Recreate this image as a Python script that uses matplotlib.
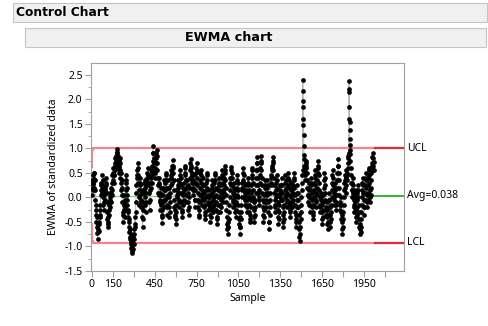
import numpy as np
import matplotlib
matplotlib.use("Agg")
from matplotlib import pyplot as plt
from matplotlib.patches import Rectangle

plt.rcParams['font.family'] = ['Noto Sans', 'DejaVu Sans']

avg = 0.038
half_width = 0.965
# limits widen over the first samples, then stay flat
startup_width = [0.58, 0.74, 0.83, 0.88, 0.91, 0.93, 0.945, 0.955, 0.96]
n_samples = 2025

# EWMA values, in hundredths, every 2nd sample
ewma_0 = [5, 20, 35, 28, 15, 30, 45, 50, 38, 20,
          50, 35, 15, -5, -25, -15, -35, -50, -40, -60,
          -72, -84, -70, -55, -65, -50, -68, -55, -40, -25,
          -35, -15, 5, 25, 15, 30, 10, 25, 45, 35,
          20, 0, -15, -25, -10, 5, 20, 10, -5, 15,
          30, 40, 25, 10, -10, -30, -45, -55, -60, -50,
          -40, -25, -35, -15, 0, 10, -5, -20, -10, 10,
          20, 5, 15, 30, 45, 35, 50, 60, 45, 30,
          45, 60, 70, 55, 65, 80, 70, 85, 75, 90,
          80, 92, 99, 85, 70, 60, 75, 65, 50, 60]
ewma_200 = [80, 70, 55, 40, 50, 30, 15, 35, 20, 5,
            -10, -30, -50, -35, -15, 5, -10, -25, -40, -20,
            -5, 15, 30, 45, 35, 20, 5, -15, -5, -25,
            -40, -30, -50, -60, -45, -70, -80, -65, -85, -75,
            -95, -104, -90, -110, -114, -100, -85, -105, -95, -80,
            -65, -85, -95, -75, -55, -40, -60, -30, -10, 10,
            25, 40, 55, 45, 70, 60, 45, 30, 15, 0,
            -15, 5, 25, 40, 30, 15, -5, -20, -10, 10,
            -20, -40, -60, -45, -25, -10, 10, 30, 15, 35,
            20, 0, -15, -30, -10, 10, 25, 40, 30, 50]
ewma_400 = [40, 25, 60, 45, 30, 10, -10, -25, -5, 15,
            30, 20, 40, 55, 45, 30, 50, 65, 75, 90,
            104, 90, 80, 70, 75, 60, 50, 40, 55, 70,
            80, 90, 96, 85, 70, 55, 40, 25, 10, 30,
            40, 25, 5, -10, -25, -5, 10, 20, 5, -15,
            -35, -52, -40, -25, -10, 5, 20, 35, 15, -5,
            -20, -5, 15, 30, 45, 50, 35, 20, 0, -20,
            -35, -15, 5, 20, 35, 20, 0, -20, -40, -30,
            -10, 10, 25, 40, 55, 45, 30, 50, 65, 60,
            77, 65, 50, 35, 15, -5, -20, -35, -25, -40]
ewma_600 = [-54, -45, -30, -15, 0, 15, 5, 20, 35, 25,
            10, -5, -20, -10, 10, 30, 45, 55, 40, 25,
            10, -10, -25, -40, -30, -15, 5, 20, 10, -5,
            15, 30, 45, 60, 65, 50, 35, 20, 5, -10,
            5, 20, 35, 25, 10, -10, -25, -35, -20, 0,
            20, 40, 55, 70, 60, 79, 65, 50, 35, 45,
            30, 15, 5, 20, 35, 45, 30, 15, -5, -20,
            -5, 15, 30, 50, 60, 70, 55, 40, 25, 10,
            -5, -20, -35, -40, -25, -10, 5, 20, 35, 50,
            55, 45, 30, 15, 0, -15, -5, 10, 25, 40]
ewma_800 = [25, 10, -5, -20, -35, -45, -30, -15, 0, 15,
            30, 45, 50, 35, 20, 5, -10, -25, -15, 0,
            15, 0, -20, -35, -50, -40, -25, -10, 5, 20,
            35, 25, 10, -5, -20, -30, -15, 0, 15, 30,
            45, 50, 35, 20, 5, -10, -25, -40, -55, -45,
            -30, -15, 0, 15, 25, 40, 30, 15, 0, -15,
            -30, -20, -5, 10, 25, 40, 55, 45, 30, 15,
            0, -10, 10, 25, 40, 55, 65, 50, 35, 20,
            5, -10, -25, -40, -55, -65, -50, -60, -74, -60,
            -45, -30, -15, 0, 15, 30, 40, 25, 40, 55]
ewma_1000 = [63, 50, 40, 25, 10, -5, -20, -10, 5, 20,
             30, 15, 0, -15, -30, -40, -25, -10, 5, 20,
             35, 45, 30, 15, 0, -15, -30, -45, -55, -40,
             -60, -74, -60, -45, -30, -15, 0, 15, 30, 20,
             35, 50, 60, 45, 30, 15, 0, -15, -5, 10,
             25, 15, 0, -15, -30, -20, -5, 10, 25, 40,
             30, 15, 0, -15, -30, -45, -50, -35, -20, -5,
             10, 25, 40, 55, 60, 45, 30, 15, 0, -10,
             -25, -40, -50, -35, -20, -5, 10, 25, 40, 55,
             70, 82, 70, 55, 40, 25, 10, -5, -15, 0]
ewma_1200 = [15, 30, 45, 60, 75, 85, 70, 55, 40, 25,
             10, -5, -20, -35, -50, -40, -25, -10, 5, 20,
             35, 25, 10, -5, -20, -10, 5, 20, 35, 25,
             10, -10, -30, -50, -64, -50, -35, -20, -5, 10,
             25, 40, 30, 45, 55, 65, 60, 75, 82, 70,
             55, 40, 25, 10, -5, -20, -30, -15, 0, 15,
             30, 45, 35, 20, 5, -10, -25, -40, -55, -45,
             -30, -15, 0, 15, 25, 10, -5, 10, 25, 40,
             25, 10, -5, -20, -35, -50, -60, -45, -30, -15,
             0, 15, 30, 45, 35, 20, 5, -10, -20, -5]
ewma_1400 = [10, 25, 40, 50, 35, 20, 5, -10, -25, -40,
             -30, -15, 0, 15, 30, 20, 5, -10, -20, -5,
             10, 25, 40, 50, 35, 20, 5, -15, -30, -45,
             -60, -50, -35, -20, -5, 10, 25, 10, -5, -20,
             -35, -50, -65, -80, -88, -75, -60, -45, -30, -15,
             0, 15, 30, 45, 55]
spike_1510 = [239, 216, 196, 184, 160, 147, 128, 105, 86, 79, 65]
ewma_1522 = [55, 45, 35, 50, 60, 70, 75, 65, 50, 35,
             20, 5, -10, 5, 20, 30, 15, 0, -15, -30,
             -15, 0, 15, 30, 40, 25, 10, -5, -20, -35,
             -43, -30, -15, 0, 15, 30, 45, 55, 40, 25,
             10, -5, -20, -10, 5, 20, 35, 50, 65, 75,
             60, 45, 30, 15, 0, -15, -30, -20, -5, 10,
             0, -15, -30, -45, -54, -40, -25, -10, 5, 20,
             35, 50, 40, 25, 10, -5, -20, -35, -25, -10,
             -25, -40, -55, -64, -50, -35, -20, -5, 10, -5,
             -20, -35, -50, -60, -45, -30, -15, 0, 15, 30]
ewma_1722 = [45, 55, 40, 25, 10, -5, -15, 0, 15, 30,
             20, 5, -10, -25, -15, 5, 20, 35, 50, 65,
             79, 65, 50, 35, 20, 5, -10, -25, -15, 0,
             -15, -30, -45, -35, -50, -65, -74, -60, -45, -30,
             -15, 0, 15, 30, 45, 35, 20, 10, 25, 40,
             55, 45, 35, 50, 60, 70, 80, 85, 90]
spike_1840 = [237, 222, 215, 184, 160, 154, 137, 120, 106, 96, 89, 75]
ewma_1853 = [60, 45, 30, 15, 0, 15, 30, 40, 25, 10,
             -5, -20, -30, -15, 0, 15, 5, -10, -25, -40,
             -50, -35, -20, -5, 10, 25, 15, 0, -15, -30,
             -45, -60, -74, -65, -55, -71, -60, -45, -30, -15,
             0, 15, 30, 40, 25, 10, -5, -20, -35, -20,
             -5, 10, 25, 40, 50, 35, 20, 5, -10, -20,
             -5, 10, 25, 40, 55, 60, 45, 30, 15, 0,
             -10, 5, 20, 35, 50, 65, 82, 70, 55, 65,
             80, 90, 72, 55]

# (first sample, step between samples, values)
blocks = [(0, 2, ewma_0), (200, 2, ewma_200), (400, 2, ewma_400),
          (600, 2, ewma_600), (800, 2, ewma_800), (1000, 2, ewma_1000),
          (1200, 2, ewma_1200), (1400, 2, ewma_1400), (1510, 1, spike_1510),
          (1522, 2, ewma_1522), (1722, 2, ewma_1722), (1840, 1, spike_1840),
          (1853, 2, ewma_1853)]

x_ticks = np.arange(0, 2101, 150)
x_labeled = [0, 150, 450, 750, 1050, 1350, 1650, 1950]
y_ticks = np.arange(-1.5, 2.51, 0.5)

xs, ys = [], []
for start, step, vals in blocks:
    xs.append(start + step * np.arange(len(vals)))
    ys.append(np.array(vals) / 100.0)
xs = np.concatenate(xs)
ys = np.concatenate(ys)

fig = plt.figure(figsize=(4.89, 3.26), dpi=100)
W, H = 489, 326

# header bars
fig.patches.append(Rectangle((13 / W, 1 - 22 / H), 474 / W, 19 / H, transform=fig.transFigure,
                             facecolor='#f0f0f0', edgecolor='#c4c4c4', lw=0.8))
fig.patches.append(Rectangle((25 / W, 1 - 47 / H), 461 / W, 19 / H, transform=fig.transFigure,
                             facecolor='#f0f0f0', edgecolor='#c4c4c4', lw=0.8))
fig.text(16 / W, 1 - 12.5 / H, 'Control Chart', fontsize=8.8, fontweight='bold',
         family='DejaVu Sans', va='center', ha='left')
fig.text(228.5 / W, 1 - 37.5 / H, 'EWMA chart', fontsize=9.2, fontweight='bold',
         family='DejaVu Sans', va='center', ha='center')

ax = fig.add_axes([91 / W, 55 / H, 313 / W, 208 / H])
xmin, xmax = -5, 2234
ax.set_xlim(xmin, xmax)
ax.set_ylim(-1.5, 2.74)

# control limits: light inside the data range, stronger past it
lim_x = np.concatenate([np.arange(len(startup_width)), [n_samples]])
w = np.concatenate([startup_width, [half_width]])
ax.plot(lim_x, avg + w, color='#f5828c', lw=1.6, drawstyle='steps-post', zorder=1)
ax.plot(lim_x, avg - w, color='#f5828c', lw=1.6, drawstyle='steps-post', zorder=1)
ax.plot([0, n_samples], [avg, avg], color='#7dd87d', lw=1.0, zorder=1)
ax.plot([n_samples, xmax], [avg + half_width] * 2, color='#e4283a', lw=1.6, zorder=1)
ax.plot([n_samples, xmax], [avg - half_width] * 2, color='#e4283a', lw=1.6, zorder=1)
ax.plot([n_samples, xmax], [avg, avg], color='#2eb82e', lw=1.4, zorder=1)

ax.plot(xs, ys, color='#b4b4b4', lw=0.7, zorder=2)
ax.plot(xs, ys, 'o', color='black', ms=3.4, mew=0, zorder=3)

ax.text(1.01, avg + half_width, 'UCL', transform=ax.get_yaxis_transform(), fontsize=7.5, va='center')
ax.text(1.01, avg, 'Avg=0.038', transform=ax.get_yaxis_transform(), fontsize=7.5, va='center')
ax.text(1.01, avg - half_width, 'LCL', transform=ax.get_yaxis_transform(), fontsize=7.5, va='center')

ax.set_xticks(x_ticks)
ax.set_xticklabels([str(t) if t in x_labeled else '' for t in x_ticks])
ax.set_yticks(y_ticks)
ax.set_yticklabels(['%.1f' % t for t in y_ticks])
ax.set_yticks(np.arange(-1.25, 2.6, 0.5), minor=True)
ax.tick_params(which='both', direction='out', color='#a0a0a0', labelsize=7.5, pad=2)
ax.tick_params(which='major', length=4)
ax.tick_params(which='minor', length=2.5)
for s in ax.spines.values():
    s.set_color('#a0a0a0')
    s.set_linewidth(0.8)

ax.set_xlabel('Sample', fontsize=7.5, labelpad=2)
ax.set_ylabel('EWMA of standardized data', fontsize=7.5, labelpad=4)

fig.savefig('out.png', dpi=100)
